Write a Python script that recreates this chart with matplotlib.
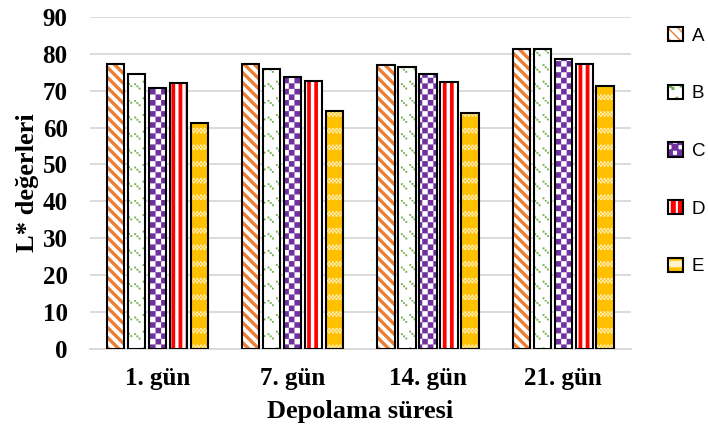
import warnings
warnings.filterwarnings("ignore")
import numpy as np
import matplotlib
matplotlib.use("Agg")
import matplotlib.pyplot as plt
import matplotlib.hatch as mhatch
from matplotlib.path import Path
from matplotlib.patches import Patch
from matplotlib.legend_handler import HandlerTuple

# ---------------- data ----------------
categories = ["1. gün", "7. gün", "14. gün", "21. gün"]
series_names = ["A", "B", "C", "D", "E"]
A_vals = [77.1, 77.3, 77.0, 81.3]
B_vals = [74.5, 76.0, 76.4, 81.3]
C_vals = [70.8, 73.7, 74.6, 78.7]
D_vals = [72.2, 72.5, 72.4, 77.3]
E_vals = [61.3, 64.5, 64.0, 71.2]
yticks = [0, 10, 20, 30, 40, 50, 60, 70, 80, 90]
xlabel = "Depolama süresi"
ylabel = "L* değerleri"


# ---------------- custom hatch patterns ----------------
class _CustomHatch(mhatch.HatchPatternBase):
    def __init__(self, hatch, density):
        self.polys = []
        self.segs = []
        if 'a' in hatch:  # wide diagonal "\" stripes
            n = 10
            for k in range(0, 2 * n + 1):
                c = k / n
                x0, x1 = max(0.0, c - 1), min(1.0, c)
                if x1 - x0 > 1e-9:
                    self.segs.append(((x0, c - x0), (x1, c - x1)))
        if 'g' in hatch:  # small dotted diagonal dashes
            nx, ny = 12, 6
            s = 0.017
            for i in range(nx):
                for j in range(ny):
                    x0 = i / nx + 0.01
                    y0 = (j + 0.9) / ny + (0.025 if i % 2 else 0.0)
                    for d in range(3):
                        cx = x0 + d * 0.022
                        cy = (y0 - d * 0.022) % 1.0
                        self.polys.append([(cx, cy), (cx + s, cy), (cx + s, cy + s), (cx, cy + s)])
        if 'c' in hatch:  # checkerboard
            n = 18
            w = 1.0 / n
            for i in range(n):
                for j in range(n):
                    if (i + j) % 2 == 0:
                        x, y = i * w, j * w
                        self.polys.append([(x, y), (x + w, y), (x + w, y + w), (x, y + w)])
        if 'v' in hatch:  # vertical stripes
            n = 14
            w = 0.037
            for i in range(n):
                x = i / n
                self.polys.append([(x, 0), (x + w, 0), (x + w, 1), (x, 1)])
        if 'k' in hatch:  # bands of small checks
            nb = 6
            m = 56
            w = 1.0 / m
            for b in range(nb):
                yb = b / nb
                for r in range(3):
                    for i in range(m):
                        if (i + r) % 2 == 0:
                            x, y = i * w, yb + r * w
                            self.polys.append([(x, y), (x + w, y), (x + w, y + w), (x, y + w)])
        self.num_vertices = 5 * len(self.polys) + 2 * len(self.segs)

    def set_vertices_and_codes(self, vertices, codes):
        i = 0
        for p in self.polys:
            vertices[i:i + 4] = p
            vertices[i + 4] = p[0]
            codes[i] = Path.MOVETO
            codes[i + 1:i + 4] = Path.LINETO
            codes[i + 4] = Path.CLOSEPOLY
            i += 5
        for a, b in self.segs:
            vertices[i] = a
            vertices[i + 1] = b
            codes[i] = Path.MOVETO
            codes[i + 1] = Path.LINETO
            i += 2


mhatch._hatch_types.append(_CustomHatch)

# ---------------- figure ----------------
fig = plt.figure(figsize=(7.08, 4.33), dpi=100)
ax = fig.add_axes([0.127, 0.194, 0.764, 0.767])

serif = "Liberation Serif"
sans = "Liberation Sans"

values = [A_vals, B_vals, C_vals, D_vals, E_vals]
faces = ["white", "white", "white", "white", "#FFC000"]
hcolors = ["#ED7D31", "#70AD47", "#7030A0", "#FF0000", "#FFF3D0"]
hatches = ["a", "g", "c", "v", "k"]
hlw = [2.4, 0.1, 0.05, 0.05, 0.05]

x = np.arange(len(categories))
width = 0.128
step = 0.155
handles = []
for k, vals in enumerate(values):
    off = (k - 2) * step
    with plt.rc_context({"hatch.linewidth": hlw[k]}):
        bars = ax.bar(x + off, vals, width, facecolor=faces[k], edgecolor=hcolors[k],
                      hatch=hatches[k], linewidth=0, zorder=2)
        for b in bars:
            if hasattr(b, "set_hatch_linewidth"):
                b.set_hatch_linewidth(hlw[k])
        ax.bar(x + off, vals, width, facecolor="none", edgecolor="black",
               linewidth=1.5, zorder=3)
        hp = Patch(facecolor=faces[k], edgecolor=hcolors[k], hatch=hatches[k], linewidth=0)
        if hasattr(hp, "set_hatch_linewidth"):
            hp.set_hatch_linewidth(hlw[k])
    op = Patch(facecolor="none", edgecolor="black", linewidth=1.5)
    handles.append((hp, op))

ax.set_xlim(-0.5, len(categories) - 0.5)
ax.set_ylim(0, 90)
ax.set_yticks(yticks)
ax.set_xticks(x)
ax.set_xticklabels(categories)
ax.grid(axis="y", color="#D9D9D9", linewidth=1.3, zorder=0)
ax.set_axisbelow(True)
for s in ["top", "right", "left"]:
    ax.spines[s].set_visible(False)
ax.spines["bottom"].set_color("#D9D9D9")
ax.spines["bottom"].set_linewidth(1.3)
ax.tick_params(axis="both", length=0)
ax.tick_params(axis="y", pad=16)
ax.tick_params(axis="x", pad=13)
for t in ax.get_yticklabels() + ax.get_xticklabels():
    t.set_fontfamily(serif)
    t.set_fontweight("bold")
    t.set_fontsize(18)

ax.set_xlabel(xlabel, fontfamily=serif, fontweight="bold", fontsize=19)
ax.set_ylabel(ylabel, fontfamily=serif, fontweight="bold", fontsize=19)
ax.xaxis.label.set_va("center")
ax.xaxis.set_label_coords(0.5, -0.187)
ax.yaxis.label.set_va("center")
ax.yaxis.set_label_coords(-0.115, 0.5)

fig.legend(handles, series_names, loc="center left", bbox_to_anchor=(0.944, 0.651),
           frameon=False, prop={"family": sans, "size": 13.5},
           handlelength=0.8, handleheight=0.8, handletextpad=0.45,
           labelspacing=2.13, borderpad=0, borderaxespad=0,
           handler_map={tuple: HandlerTuple(ndivide=1, pad=0)})

fig.savefig("out.png", dpi=100)
